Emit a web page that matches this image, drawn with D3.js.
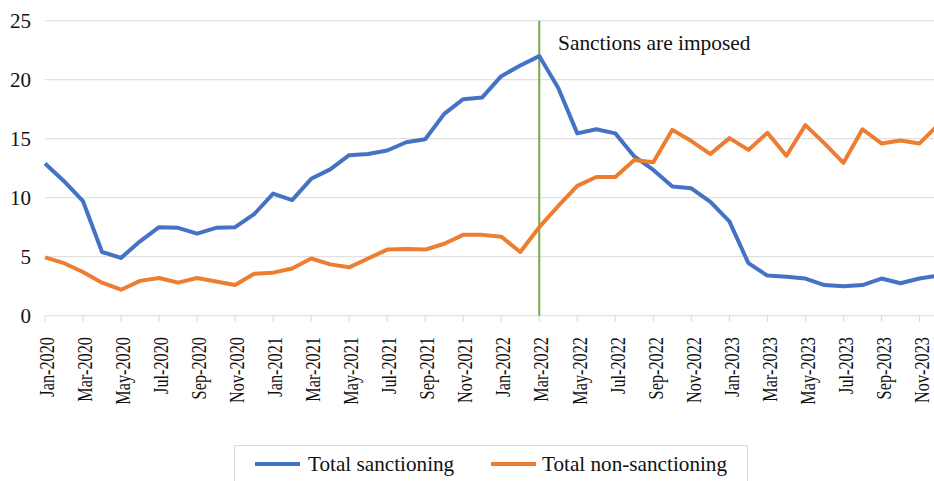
<!DOCTYPE html>
<html><head><meta charset="utf-8">
<script src="https://cdn.jsdelivr.net/npm/d3@7"></script>
<style>
html,body{margin:0;padding:0;background:#fff;}
svg{display:block;font-family:"Liberation Serif","Times New Roman",serif;}
</style></head>
<body><svg id="chart" width="934" height="481"></svg>
<script>
const months = ["Jan","Feb","Mar","Apr","May","Jun","Jul","Aug","Sep","Oct","Nov","Dec"];
const years = [2020, 2021, 2022, 2023];
const categories = years.flatMap(y => months.map(m => m + "-" + y));
const sanctioning = [12.9, 11.4, 9.7, 5.4, 4.9, 6.3, 7.5, 7.45, 6.95, 7.45, 7.5, 8.6,
  10.35, 9.8, 11.6, 12.4, 13.6, 13.7, 14.0, 14.7, 14.95, 17.1, 18.35, 18.5,
  20.3, 21.2, 22.0, 19.3, 15.45, 15.8, 15.45, 13.5, 12.35, 10.95, 10.8, 9.65,
  8.0, 4.45, 3.4, 3.3, 3.15, 2.6, 2.5, 2.6, 3.15, 2.75, 3.15, 3.4];
const nonSanctioning = [4.95, 4.45, 3.7, 2.8, 2.2, 2.95, 3.2, 2.8, 3.2, 2.9, 2.6, 3.55,
  3.65, 4.0, 4.85, 4.35, 4.1, 4.85, 5.6, 5.65, 5.6, 6.1, 6.85, 6.85,
  6.7, 5.4, 7.5, 9.3, 11.0, 11.75, 11.75, 13.2, 13.0, 15.75, 14.8, 13.7,
  15.05, 14.05, 15.5, 13.55, 16.15, 14.6, 12.95, 15.8, 14.6, 14.85, 14.6, 16.2];
const yTicks = [0, 5, 10, 15, 20, 25];
const seriesNames = ["Total sanctioning", "Total non-sanctioning"];
const eventMonth = "Mar-2022";
const eventLabel = "Sanctions are imposed";

const svg = d3.select("#chart");
const W = 934;
const x = d3.scalePoint().domain(categories).range([45, 938.5]);
const y = d3.scaleLinear().domain([0, 25]).range([315.7, 20.7]);

// gridlines
svg.append("g").selectAll("line").data(yTicks).join("line")
  .attr("x1", 45).attr("x2", W)
  .attr("y1", d => y(d)).attr("y2", d => y(d))
  .attr("stroke", "#d9d9d9").attr("stroke-width", 1);

// y labels
svg.append("g").selectAll("text").data(yTicks).join("text")
  .attr("x", 31).attr("y", d => y(d)).attr("dy", "0.35em")
  .attr("text-anchor", "end").attr("font-size", 21).attr("fill", "#111")
  .text(d => d);

// x ticks
const labelled = categories.filter((c, i) => i % 2 === 0);
svg.append("g").selectAll("line").data(labelled).join("line")
  .attr("x1", d => x(d)).attr("x2", d => x(d))
  .attr("y1", y(0)).attr("y2", y(0) + 6)
  .attr("stroke", "#d9d9d9").attr("stroke-width", 1);

svg.append("g").selectAll("text").data(labelled).join("text")
  .attr("transform", d => `translate(${x(d) + 1.5},337) rotate(-90) scale(0.74,1)`)
  .attr("dy", "0.35em")
  .attr("text-anchor", "end").attr("font-size", 22).attr("fill", "#111")
  .text(d => d);

// event line
svg.append("line")
  .attr("x1", x(eventMonth)).attr("x2", x(eventMonth))
  .attr("y1", y(25)).attr("y2", y(0))
  .attr("stroke", "#70ad47").attr("stroke-width", 2);
svg.append("text").attr("x", 558).attr("y", 49.5)
  .attr("font-size", 21.4).attr("fill", "#111").text(eventLabel);

// lines
const line = d3.line().x((d, i) => x(categories[i])).y(d => y(d));
const colors = ["#4472c4", "#ed7d31"];
[sanctioning, nonSanctioning].forEach((s, k) => {
  svg.append("path").datum(s).attr("d", line)
    .attr("fill", "none").attr("stroke", colors[k]).attr("stroke-width", 4)
    .attr("stroke-linejoin", "round").attr("stroke-linecap", "butt");
});

// legend
svg.append("rect").attr("x", 234.5).attr("y", 445.5).attr("width", 513).attr("height", 45)
  .attr("fill", "#fff").attr("stroke", "#d9d9d9");
const legX = [[255, 308], [491, 542]];
seriesNames.forEach((n, k) => {
  svg.append("line").attr("x1", legX[k][0]).attr("x2", legX[k][0] + 45)
    .attr("y1", 464).attr("y2", 464).attr("stroke", colors[k]).attr("stroke-width", 4);
  svg.append("text").attr("x", legX[k][1]).attr("y", 471)
    .attr("font-size", 21.2).attr("fill", "#111").text(n);
});
</script></body></html>
